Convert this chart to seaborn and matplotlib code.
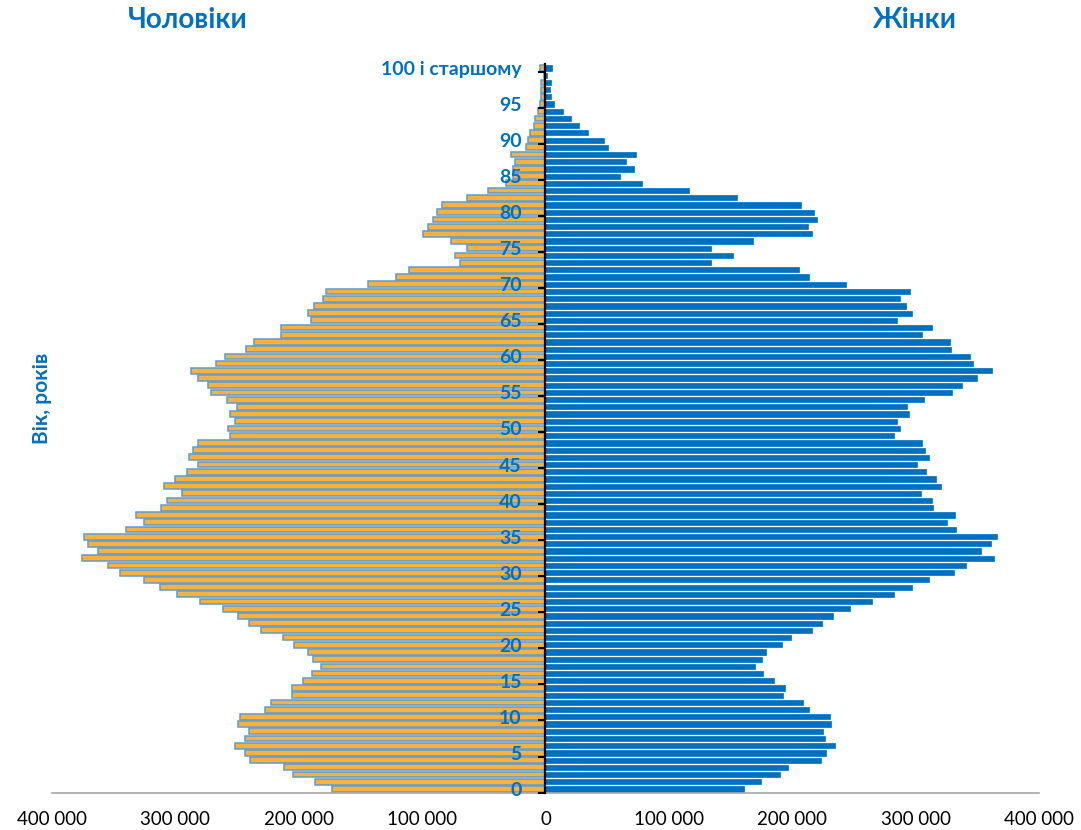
import numpy as np
import pandas as pd
import matplotlib
matplotlib.use("Agg")
import matplotlib.pyplot as plt
from matplotlib.ticker import FixedLocator, FuncFormatter
import seaborn as sns

# Age groups 0 ... 100+ (single years)
ages = list(range(0, 101))
age_labels = [str(a) if a % 5 == 0 else "" for a in ages]
age_labels[100] = "100 і старшому"

# Population by single year of age, persons
males = [
    173200, 187200, 204700, 212100, 239300, 243600, 251800, 243200, 240500, 249000,
    247500, 227200, 222200, 205800, 205800, 196500, 189100, 182100, 188300, 192200,
    203500, 212800, 230400, 240100, 249400, 261700, 280000, 298500, 312700, 325500,
    344700, 354900, 375900, 363000, 370600, 373900, 340200, 325500, 332000, 311700,
    306600, 294400, 309300, 300000, 290300, 282000, 288700, 285700, 282000, 256000,
    257400, 251400, 256000, 250300, 257900, 270900, 273600, 281400, 287100, 267100,
    260100, 242800, 236300, 214100, 214100, 189800, 192200, 187600, 180600, 177600,
    143800, 121100, 110900, 69200, 73000, 63300, 76500, 99500, 94900, 90800,
    88100, 83800, 63800, 46800, 31900, 26000, 26000, 24300, 27600, 15700,
    14100, 12200, 9500, 8100, 5700, 4300, 3800, 3800, 3500, 1500,
    4300,
]
females = [
    160700, 174700, 189900, 196900, 223700, 227600, 235000, 226800, 224900, 231100,
    230400, 213600, 208600, 192600, 193800, 185200, 176300, 170000, 175900, 179000,
    191400, 199200, 216000, 224500, 232700, 246700, 264600, 282800, 297100, 310900,
    330900, 341200, 363300, 353100, 360900, 366000, 332500, 325200, 332200, 313900,
    313300, 304400, 320700, 316300, 308500, 300900, 311200, 307700, 305200, 282200,
    287100, 284700, 294400, 293000, 306800, 329300, 337700, 350100, 362300, 346900,
    343900, 329000, 327700, 305200, 313300, 284900, 296800, 292200, 287100, 295200,
    243300, 213900, 205500, 134400, 152000, 133800, 167900, 216300, 212800, 219800,
    217400, 206900, 155200, 116300, 78400, 60800, 71900, 65200, 73000, 50300,
    47300, 34600, 27000, 20300, 14600, 6800, 4600, 3800, 4600, 1500,
    5400,
]
x_ticks = [-400000, -300000, -200000, -100000, 0, 100000, 200000, 300000, 400000]

BLUE = "#0070C0"
ORANGE = "#F9B13A"
EDGE = "#5B9BD5"

df = pd.DataFrame({"age": ages, "male": [-v for v in males], "female": females})

sns.set_style("white")
plt.rcParams["font.family"] = ["Lato", "DejaVu Sans"]

fig = plt.figure(figsize=(10.81, 8.3), dpi=100)
ax = fig.add_axes([0.0481, 0.0451, 0.913, 0.8773])

sns.barplot(data=df, x="male", y="age", orient="y", native_scale=True, width=0.8,
            color=ORANGE, edgecolor=EDGE, linewidth=1.1, saturation=1,
            errorbar=None, ax=ax)
sns.barplot(data=df, x="female", y="age", orient="y", native_scale=True, width=0.72,
            color=BLUE, edgecolor=BLUE, linewidth=0.5, saturation=1,
            errorbar=None, ax=ax)
for p in ax.patches:
    p.set_zorder(1)

ax.set_xlim(-400000, 400000)
ax.set_ylim(-0.5, 100.5)
ax.set_xlabel("")
ax.set_ylabel("")

# Vertical axis through zero with age labels beside it
for side in ("top", "right"):
    ax.spines[side].set_visible(False)
ax.spines["left"].set_position(("data", 0))
ax.spines["left"].set_color("black")
ax.spines["left"].set_linewidth(1.6)
ax.spines["left"].set_zorder(5)
ax.spines["bottom"].set_color("#A6A6A6")
ax.spines["bottom"].set_linewidth(1.2)
ax.yaxis.set_zorder(6)

label_pos = [a for a in ages if age_labels[a]]
ax.yaxis.set_major_locator(FixedLocator(label_pos))
ax.set_yticklabels([age_labels[a] for a in label_pos], fontsize=14,
                   fontweight="bold", color=BLUE)
ax.yaxis.set_minor_locator(FixedLocator([a - 0.5 for a in label_pos]))
ax.tick_params(axis="y", which="major", length=0, pad=17)
ax.tick_params(axis="y", which="minor", length=5, width=1.5, color="black",
               direction="out", left=True)

ax.xaxis.set_major_locator(FixedLocator(x_ticks))
ax.xaxis.set_major_formatter(FuncFormatter(lambda v, p: f"{abs(int(v)):,}".replace(",", " ")))
ax.tick_params(axis="x", which="major", length=6, width=1.2, color="#A6A6A6",
               direction="out", pad=7, labelsize=13.5, labelcolor="black")

# Headings
fig.text(188 / 1081, 1 - 20 / 830, "Чоловіки", ha="center", va="center",
         fontsize=20, fontweight="bold", color=BLUE)
fig.text(914 / 1081, 1 - 20 / 830, "Жінки", ha="center", va="center",
         fontsize=20, fontweight="bold", color=BLUE)
fig.text(42 / 1081, 1 - 398 / 830, "Вік, років", ha="center", va="center",
         rotation=90, fontsize=15, fontweight="bold", color=BLUE)

fig.savefig("out.png", dpi=100)
